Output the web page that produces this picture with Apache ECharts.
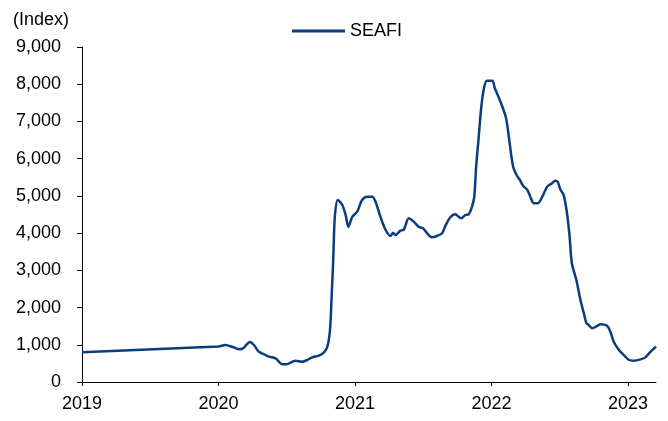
<!DOCTYPE html>
<html>
<head>
<meta charset="utf-8">
<script src="https://cdn.jsdelivr.net/npm/echarts@6/dist/echarts.min.js"></script>
<style>html,body{margin:0;padding:0;background:#fff}#c{width:668px;height:421px}</style>
</head>
<body>
<div id="c"></div>
<script>
var seriesName = 'SEAFI';
var dates = [
'2019-01-01','2020-01-01','2020-01-20','2020-02-10','2020-02-27','2020-03-09','2020-03-25','2020-04-05','2020-04-18','2020-05-01',
'2020-05-15','2020-06-02','2020-06-18','2020-07-01','2020-07-25','2020-08-12','2020-08-26','2020-09-08','2020-09-26','2020-10-10',
'2020-10-19','2020-10-26','2020-10-30','2020-11-04','2020-11-08','2020-11-16','2020-11-28','2020-12-07','2020-12-14','2020-12-25',
'2021-01-07','2021-01-20','2021-02-03','2021-02-16','2021-02-25','2021-03-10','2021-03-24','2021-04-06','2021-04-13','2021-04-19',
'2021-05-03','2021-05-11','2021-05-25','2021-06-07','2021-06-20','2021-07-02','2021-07-13','2021-07-26','2021-08-08','2021-08-22',
'2021-08-31','2021-09-13','2021-09-26','2021-10-12','2021-10-23','2021-11-01','2021-11-10','2021-11-16','2021-11-21','2021-11-28',
'2021-12-04','2021-12-11','2021-12-20','2022-01-03','2022-01-10','2022-01-25','2022-02-08','2022-02-14','2022-02-21','2022-02-28',
'2022-03-09','2022-03-18','2022-03-27','2022-04-07','2022-04-15','2022-04-24','2022-05-05','2022-05-17','2022-05-30','2022-06-12',
'2022-06-21','2022-06-27','2022-07-04','2022-07-13','2022-07-22','2022-07-29','2022-08-04','2022-08-16','2022-08-27','2022-09-05',
'2022-09-12','2022-09-18','2022-09-27','2022-10-11','2022-10-19','2022-11-06','2022-11-15','2022-11-24','2022-12-08','2022-12-21',
'2023-01-04','2023-01-17','2023-02-04','2023-02-17','2023-02-28','2023-03-17'
];
var values = [
800,955,994,932,878,922,1075,994,815,752,
680,636,484,475,573,546,591,663,707,797,
949,1397,2203,3367,4442,4890,4756,4487,4173,4442,
4576,4890,4979,4979,4845,4442,4084,3923,4012,3950,
4070,4084,4398,4308,4173,4130,3995,3888,3923,3995,
4200,4425,4505,4398,4487,4505,4710,4979,5785,6591,
7309,7846,8096,8096,7891,7532,7129,6771,6234,5785,
5562,5428,5267,5159,4979,4801,4801,4979,5249,5339,
5410,5383,5178,5025,4533,3905,3190,2741,2203,1846,
1577,1532,1443,1505,1550,1513,1352,1083,860,725,
591,573,609,663,788,949
];
var xTicks = [2019, 2020, 2021, 2022, 2023];
var yMin = 0, yMax = 9000, yStep = 1000;
var xMaxDate = '2023-03-17';

function fracYear(s) {
  var p = s.split('-').map(Number);
  var y = p[0];
  var start = Date.UTC(y, 0, 1), end = Date.UTC(y + 1, 0, 1);
  var d = Date.UTC(y, p[1] - 1, p[2]);
  return y + (d - start) / (end - start);
}
var data = dates.map(function (d, i) { return [fracYear(d), values[i]]; });

var font = 'Liberation Sans, Arial, sans-serif';
var chart = echarts.init(document.getElementById('c'));
chart.setOption({
  animation: false,
  title: {
    text: '(Index)', left: 8, top: 6,
    textStyle: { fontFamily: font, fontSize: 18, fontWeight: 'normal', color: '#000' }
  },
  legend: {
    data: [seriesName], left: 287, top: 17,
    icon: 'rect', itemWidth: 53, itemHeight: 3, itemGap: 10,
    textStyle: { fontFamily: font, fontSize: 18, color: '#000' }
  },
  grid: { left: 82, right: 12, top: 47, bottom: 39, containLabel: false },
  xAxis: {
    type: 'value', min: xTicks[0], max: fracYear(xMaxDate), interval: 1,
    splitLine: { show: false },
    axisLine: { lineStyle: { color: '#000', width: 1 } },
    axisTick: { show: true, length: 4, lineStyle: { color: '#000' }, customValues: xTicks },
    axisLabel: { fontFamily: font, fontSize: 18, color: '#000', margin: 13, customValues: xTicks,
      formatter: function (v) { return String(Math.round(v)); } }
  },
  yAxis: {
    type: 'value', min: yMin, max: yMax, interval: yStep,
    splitLine: { show: false },
    axisLine: { show: true, lineStyle: { color: '#000', width: 1 } },
    axisTick: { show: true, length: 5, lineStyle: { color: '#000' } },
    axisLabel: { fontFamily: font, fontSize: 18, color: '#000', margin: 21,
      formatter: function (v) { return v.toLocaleString('en-US'); } }
  },
  series: [{
    name: seriesName, type: 'line', data: data, showSymbol: false, smooth: 0.3,
    lineStyle: { color: '#0a3d7d', width: 2.5 }, itemStyle: { color: '#0a3d7d' }
  }]
});
</script>
</body>
</html>
